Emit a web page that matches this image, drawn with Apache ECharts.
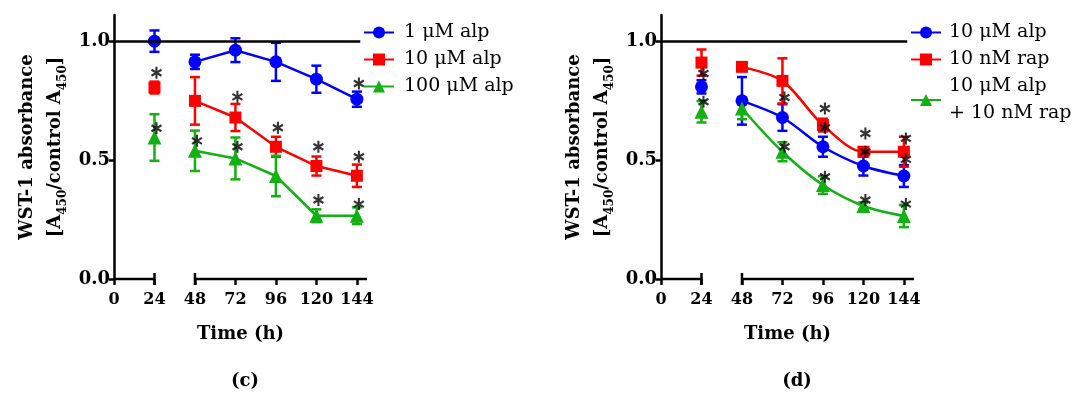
<!DOCTYPE html>
<html>
<head>
<meta charset="utf-8">
<script src="https://cdn.jsdelivr.net/npm/echarts@6/dist/echarts.min.js"></script>
<style>
  html, body { margin: 0; padding: 0; background: #fff; }
  #chart { width: 1072px; height: 396px; }
</style>
</head>
<body>
<div id="chart"></div>
<script>
// time points (h) and axis ticks
const hours = [24, 48, 72, 96, 120, 144]
const xTicks = [0, 24, 48, 72, 96, 120, 144]
const yTicks = [0, 0.5, 1.0]
const xParts = [[0, 24], [48, 150]] // broken x axis
const breakAt = [24, 48]

// panel (c)
const labelsC = ['1 μM alp', '10 μM alp', '100 μM alp']
const alp1 = [1.0, 0.913, 0.962, 0.913, 0.840, 0.756]
const alp1Err = [0.045, 0.03, 0.05, 0.08, 0.057, 0.032]
const alp10 = [0.805, 0.749, 0.679, 0.556, 0.475, 0.434]
const alp10Err = [0.025, 0.1, 0.057, 0.042, 0.04, 0.047]
const alp100 = [0.595, 0.539, 0.507, 0.433, 0.266, 0.266]
const alp100Err = [0.098, 0.085, 0.088, 0.085, 0.027, 0.035]
const starsC = [[24, 0.867], [24, 0.634], [48, 0.581], [72, 0.766], [72, 0.556], [96, 0.636],
  [120, 0.556], [120, 0.332], [144, 0.822], [144, 0.514], [144, 0.315]]

// panel (d)
const labelsD = ['10 μM alp', '10 nM rap', '10 μM alp\n+ 10 nM rap']
const alpD = [0.808, 0.749, 0.679, 0.556, 0.475, 0.433]
const alpDErr = [0.028, 0.1, 0.056, 0.042, 0.04, 0.046]
const rap = [0.910, 0.892, 0.833, 0.647, 0.535, 0.535]
const rapErr = [0.055, 0.01, 0.095, 0.027, 0.01, 0.063]
const combo = [0.703, 0.717, 0.535, 0.395, 0.307, 0.265]
const comboErr = [0.045, 0.045, 0.04, 0.037, 0.015, 0.047]
const starsD = [[24, 0.864], [24, 0.745], [72, 0.763], [72, 0.556], [96, 0.717], [96, 0.636],
  [96, 0.430], [120, 0.612], [120, 0.535], [120, 0.332], [144, 0.591], [144, 0.503], [144, 0.315]]

const colors = ['#0000ff', '#ff0000', '#12b012']
const symbols = ['circle', 'rect', 'triangle']
const symbolSizes = [13, 12, 14]
const FONT = 'DejaVu Serif'
const ASTERISK = 'path://M-1.8 -10L1.8 -10L1.8 10L-1.8 10Z' +
  'M7.76 6.56L-9.56 -3.44L-7.76 -6.56L9.56 3.44Z' +
  'M9.56 -3.44L-7.76 6.56L-9.56 3.44L7.76 -6.56Z'

const toLine = (vals) => {
  // the 24 h point stands alone, the axis is broken before 48 h
  const out = [[hours[0], vals[0]], [36, null]]
  for (let i = 1; i < hours.length; i++) out.push([hours[i], vals[i]])
  return out
}
const toErr = (vals, errs) => hours.map((h, i) => [h, vals[i] - errs[i], vals[i] + errs[i]])

const renderErr = (params, api) => {
  const x = api.value(0)
  const lo = api.coord([x, api.value(1)])
  const hi = api.coord([x, api.value(2)])
  const w = 5
  const style = { stroke: api.visual('color'), lineWidth: 2.5 }
  return {
    type: 'group',
    children: [
      { type: 'line', shape: { x1: hi[0], y1: hi[1], x2: lo[0], y2: lo[1] }, style },
      { type: 'line', shape: { x1: hi[0] - w, y1: hi[1], x2: hi[0] + w, y2: hi[1] }, style },
      { type: 'line', shape: { x1: lo[0] - w, y1: lo[1], x2: lo[0] + w, y2: lo[1] }, style }
    ]
  }
}

const renderAxisPart = (params, api) => {
  const x1 = api.value(0), x2 = api.value(1)
  const a = api.coord([x1, 0])
  const b = api.coord([x2, 0])
  const style = { stroke: '#000', lineWidth: 2.5 }
  const children = [{ type: 'line', shape: { x1: a[0], y1: a[1], x2: b[0], y2: b[1] }, style }]
  ;[[x1, a], [x2, b]].forEach(([v, p]) => {
    if (breakAt.includes(v)) {
      children.push({ type: 'line', shape: { x1: p[0], y1: p[1] - 6, x2: p[0], y2: p[1] + 6 }, style })
    }
  })
  return { type: 'group', children }
}

const makeGrid = (left) => ({ left, top: 15, width: 253, height: 264 })

const makeX = (idx) => ({
  type: 'value', gridIndex: idx, min: 0, max: 150,
  name: 'Time (h)', nameLocation: 'middle', nameGap: 46,
  nameTextStyle: { fontFamily: FONT, fontWeight: 'bold', fontSize: 18, color: '#000' },
  axisLine: { show: false },
  axisTick: { show: true, length: 6, customValues: xTicks, lineStyle: { color: '#000', width: 2.5 } },
  axisLabel: { customValues: xTicks, margin: 13, fontFamily: FONT, fontWeight: 'bold', fontSize: 16, color: '#000' },
  splitLine: { show: false }
})

const makeY = (idx) => ({
  type: 'value', gridIndex: idx, min: 0, max: 1.11,
  name: '{b|WST-1 absorbance}\n{b|[A}{s|450}{b|/control A}{s|450}{b|]}',
  nameLocation: 'middle', nameRotate: 90, nameGap: 45,
  nameTextStyle: {
    rich: {
      b: { fontFamily: FONT, fontWeight: 'bold', fontSize: 18, color: '#000', lineHeight: 28 },
      s: { fontFamily: FONT, fontWeight: 'bold', fontSize: 12, color: '#000', lineHeight: 14, verticalAlign: 'bottom' }
    }
  },
  axisLine: { show: true, lineStyle: { color: '#000', width: 2.5 } },
  axisTick: { show: true, length: 5, customValues: yTicks, lineStyle: { color: '#000', width: 2.5 } },
  axisLabel: {
    customValues: yTicks, margin: 4, formatter: (v) => v.toFixed(1),
    fontFamily: FONT, fontWeight: 'bold', fontSize: 18, color: '#000'
  },
  splitLine: { show: false }
})

const refLine = {
  silent: true, symbol: 'none', animation: false,
  lineStyle: { color: '#000', width: 2.5, type: 'solid' },
  label: { show: false },
  data: [[{ coord: [0, 1] }, { coord: [146, 1] }]]
}

const panelSeries = (idx, sets, smooth) => {
  const list = []
  sets.forEach(([name, vals, errs], i) => {
    list.push({
      type: 'custom', name: name + '_err', xAxisIndex: idx, yAxisIndex: idx, z: 2,
      itemStyle: { color: colors[i] }, renderItem: renderErr,
      encode: { x: 0, y: [1, 2] }, data: toErr(vals, errs)
    })
    list.push({
      type: 'line', name, xAxisIndex: idx, yAxisIndex: idx, z: 3,
      smooth, symbol: symbols[i], symbolSize: symbolSizes[i], showAllSymbol: true,
      itemStyle: { color: colors[i] }, lineStyle: { color: colors[i], width: 2.5 },
      data: toLine(vals),
      markLine: i === 0 ? refLine : undefined
    })
  })
  list.push({
    type: 'custom', name: 'axis' + idx, xAxisIndex: idx, yAxisIndex: idx, z: 4, silent: true,
    renderItem: renderAxisPart, encode: { x: [0, 1], y: 2 },
    data: xParts.map((p) => [p[0], p[1], 0])
  })
  return list
}

const starSeries = (idx, stars) => ({
  type: 'scatter', name: 'stars' + idx, xAxisIndex: idx, yAxisIndex: idx, z: 5,
  symbol: ASTERISK, symbolSize: [11, 12], symbolOffset: [2, 0],
  itemStyle: { color: '#000' }, data: stars
})

const legendText = (pad) => ({ fontFamily: FONT, fontSize: 19, color: '#000', lineHeight: 27, padding: [0, 0, 0, pad] })

const chart = echarts.init(document.getElementById('chart'))
chart.setOption({
  backgroundColor: '#fff',
  animation: false,
  grid: [makeGrid(114), makeGrid(661)],
  xAxis: [makeX(0), makeX(1)],
  yAxis: [makeY(0), makeY(1)],
  legend: [
    {
      data: ['c0', 'c1', 'c2'], orient: 'vertical', left: 358, top: 14,
      itemWidth: 30, itemHeight: 15, itemGap: 0,
      formatter: (n) => labelsC[+n[1]], textStyle: legendText(5)
    },
    {
      data: ['d0', 'd1', 'd2'], orient: 'vertical', left: 905, top: 14,
      itemWidth: 30, itemHeight: 15, itemGap: 0,
      formatter: (n) => labelsD[+n[1]], textStyle: legendText(3)
    }
  ],
  graphic: [
    { type: 'text', x: 245, y: 381, style: { text: '(c)', textAlign: 'center', textVerticalAlign: 'middle', font: 'bold 18px "DejaVu Serif"', fill: '#000' } },
    { type: 'text', x: 797, y: 381, style: { text: '(d)', textAlign: 'center', textVerticalAlign: 'middle', font: 'bold 18px "DejaVu Serif"', fill: '#000' } }
  ],
  series: [
    ...panelSeries(0, [['c0', alp1, alp1Err], ['c1', alp10, alp10Err], ['c2', alp100, alp100Err]], false),
    starSeries(0, starsC),
    ...panelSeries(1, [['d0', alpD, alpDErr], ['d1', rap, rapErr], ['d2', combo, comboErr]], 0.3),
    starSeries(1, starsD)
  ]
})
</script>
</body>
</html>
